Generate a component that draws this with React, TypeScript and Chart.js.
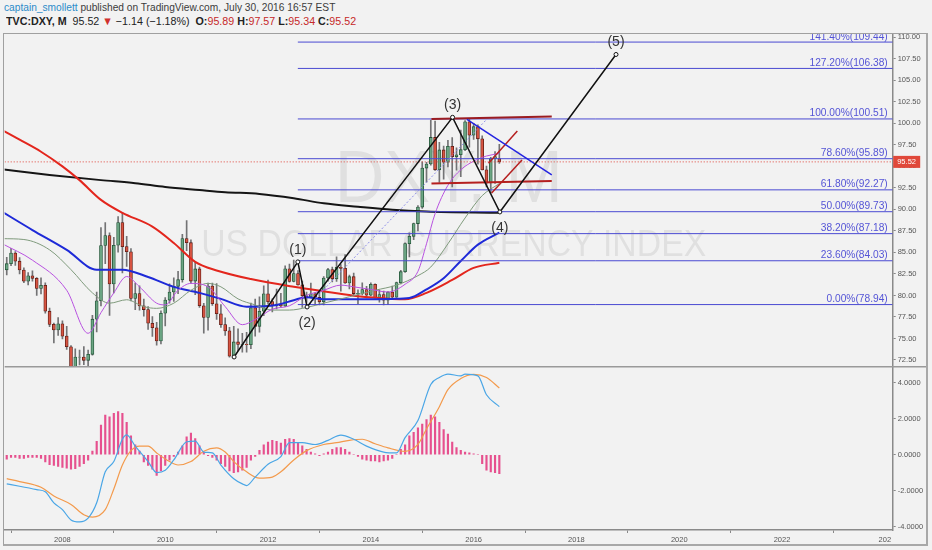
import { useEffect, useRef } from "react";
import Chart from "chart.js/auto";

// Monthly DXY candles, first bar is Dec 2006, last is Jul 2016
const firstCandleMonth = "2006-12";

const opens = [
  82.98,
  83.69, 84.93, 83.98, 82.96, 81.65, 82.29, 81.99, 80.81, 81.17, 78.17, 76.64, 75.99,
  76.7, 75.27, 74.04, 71.71, 72.83, 72.85, 72.46, 73.16, 77.24, 79.38, 85.8, 86.95,
  81.34, 85.83, 88.48, 85.67, 85.08, 79.65, 80.22, 78.79, 78.36, 76.77, 76.25, 74.71,
  77.93, 79.46, 80.4, 81.06, 81.83, 86.6, 86.13, 81.67, 83.08, 78.8, 77.44, 81.1,
  79.03, 77.87, 76.61, 75.88, 72.94, 74.6, 74.31, 74.33, 74.28, 78.56, 76.41, 78.16,
  80.18, 79.28, 78.85, 79.0, 78.77, 83.09, 81.63, 82.55, 81.22, 79.96, 79.82, 80.19,
  79.77, 79.26, 82.03, 83.01, 81.93, 83.28, 83.15, 81.45, 82.18, 80.22, 80.24, 80.68,
  80.04, 81.29, 79.75, 80.1, 79.46, 80.4, 79.8, 81.49, 82.76, 86.02, 86.87, 88.35,
  90.27, 94.8, 95.27, 98.36, 94.6, 96.91, 95.48, 97.34, 96.13, 96.35, 96.94, 100.17,
  98.63, 99.61, 98.2, 94.59, 93.08, 95.89, 95.89,
];
const highs = [
  84.44,
  85.48, 85.1, 84.4, 83.2, 82.65, 82.86, 82.09, 82.05, 81.47, 78.54, 76.8, 77.43,
  77.06, 76.41, 74.18, 73.81, 73.66, 74.06, 73.64, 77.68, 80.38, 87.89, 88.46, 87.27,
  86.75, 89.16, 89.62, 86.86, 85.46, 81.45, 81.11, 79.57, 78.71, 77.54, 76.87, 78.21,
  79.76, 81.34, 82.06, 82.79, 87.1, 88.71, 86.45, 83.92, 83.29, 79.08, 81.44, 81.44,
  81.38, 78.93, 77.39, 76.29, 76.42, 76.12, 75.59, 75.72, 79.12, 79.59, 79.83, 81.12,
  81.78, 79.62, 80.74, 80.24, 83.43, 83.65, 84.1, 82.89, 81.66, 80.39, 81.45, 80.33,
  80.45, 82.19, 83.16, 83.31, 84.48, 83.6, 84.75, 82.37, 82.6, 80.66, 81.48, 81.06,
  81.48, 81.35, 80.61, 80.5, 80.44, 81.08, 81.55, 82.92, 86.11, 87.27, 88.41, 90.44,
  95.53, 95.48, 100.39, 100.27, 97.79, 97.36, 98.03, 98.33, 97.16, 99.22, 100.33, 100.51,
  100.0, 99.83, 98.55, 95.03, 96.06, 96.71, 97.57,
];
const lows = [
  82.38,
  83.46, 83.5, 82.5, 81.49, 81.22, 81.65, 80.01, 80.17, 77.93, 76.38, 74.48, 75.35,
  74.95, 73.72, 70.7, 71.27, 71.92, 71.95, 70.7, 73.06, 75.76, 78.79, 83.7, 77.69,
  80.3, 85.02, 82.63, 83.37, 79.36, 78.34, 78.28, 77.6, 76.06, 75.25, 74.23, 74.38,
  76.47, 79.09, 79.3, 80.2, 81.53, 85.2, 81.4, 80.09, 78.6, 75.63, 75.96, 78.85,
  77.21, 76.29, 75.35, 72.82, 72.7, 73.59, 73.42, 73.42, 73.81, 75.28, 75.74, 77.66,
  78.98, 78.1, 78.43, 78.65, 78.7, 81.55, 81.56, 81.2, 78.6, 79.18, 79.7, 79.01,
  78.91, 78.91, 81.65, 81.58, 81.62, 80.5, 81.4, 80.77, 79.96, 79.05, 80.07, 79.7,
  79.97, 79.72, 79.23, 78.91, 78.93, 79.75, 79.77, 81.34, 82.67, 84.47, 86.48, 87.49,
  90.12, 93.15, 95.13, 94.53, 93.13, 93.51, 94.94, 92.62, 94.57, 93.8, 96.81, 97.22,
  98.14, 95.25, 94.58, 92.62, 91.88, 93.02, 95.34,
];
const closes = [
  83.69,
  84.93, 83.98, 82.96, 81.65, 82.29, 81.99, 80.81, 81.17, 78.17, 76.64, 75.99, 76.7,
  75.27, 74.04, 71.71, 72.83, 72.85, 72.46, 73.16, 77.24, 79.38, 85.8, 86.95, 81.34,
  85.83, 88.48, 85.67, 85.08, 79.65, 80.22, 78.79, 78.36, 76.77, 76.25, 74.71, 77.93,
  79.46, 80.4, 81.06, 81.83, 86.6, 86.13, 81.67, 83.08, 78.8, 77.44, 81.1, 79.03,
  77.87, 76.61, 75.88, 72.94, 74.6, 74.31, 74.33, 74.28, 78.56, 76.41, 78.16, 80.18,
  79.28, 78.85, 79.0, 78.77, 83.09, 81.63, 82.55, 81.22, 79.96, 79.82, 80.19, 79.77,
  79.26, 82.03, 83.01, 81.93, 83.28, 83.15, 81.45, 82.18, 80.22, 80.24, 80.68, 80.04,
  81.29, 79.75, 80.1, 79.46, 80.4, 79.8, 81.49, 82.76, 86.02, 86.87, 88.35, 90.27,
  94.8, 95.27, 98.36, 94.6, 96.91, 95.48, 97.34, 96.13, 96.35, 96.94, 100.17, 98.63,
  99.61, 98.2, 94.59, 93.08, 95.89, 96.14, 95.52,
];

// moving averages (month, value)
const redMa: [string, number][] = [
  ["2006-11", 99.2], ["2007-03", 98.1], ["2007-08", 96.7], ["2008-01", 95.0], ["2008-05", 93.4],
  ["2008-10", 91.1], ["2009-03", 89.6], ["2009-10", 88.0], ["2010-03", 86.1], ["2010-08", 83.9],
  ["2011-01", 82.9], ["2011-09", 81.9], ["2012-07", 81.0], ["2013-03", 80.4], ["2013-10", 79.9],
  ["2014-06", 79.6], ["2014-09", 79.55], ["2015-02", 80.3], ["2015-08", 81.8], ["2016-01", 83.2],
  ["2016-07", 83.8],
];
const blackMa: [string, number][] = [
  ["2006-11", 94.65], ["2007-10", 94.0], ["2008-10", 93.4], ["2009-06", 93.05], ["2010-01", 92.6],
  ["2010-09", 92.25], ["2011-03", 92.0], ["2011-11", 91.8], ["2012-07", 91.3], ["2013-02", 90.7],
  ["2013-10", 90.3], ["2014-06", 89.95], ["2015-02", 89.75], ["2016-07", 89.6],
];
const blueMa: [string, number][] = [
  ["2006-11", 89.7], ["2007-06", 87.6], ["2008-02", 85.3], ["2008-09", 83.0], ["2009-03", 83.0],
  ["2009-09", 82.15], ["2010-03", 81.0], ["2010-09", 80.3], ["2011-02", 79.6], ["2011-08", 78.7],
  ["2012-03", 78.9], ["2012-07", 79.45], ["2012-10", 79.8], ["2013-02", 79.55], ["2013-10", 79.55],
  ["2014-06", 79.6], ["2014-10", 79.7], ["2015-02", 80.7], ["2015-06", 82.0], ["2015-10", 84.0],
  ["2016-02", 85.9], ["2016-07", 87.3],
];
const purpleMa: [string, number][] = [
  ["2006-11", 86.0], ["2007-06", 84.1], ["2008-02", 80.6], ["2008-07", 75.6], ["2008-10", 78.0],
  ["2009-01", 80.3], ["2009-04", 82.2], ["2009-07", 81.0], ["2009-11", 79.1], ["2010-01", 78.9],
  ["2010-04", 80.6], ["2010-07", 81.4], ["2010-11", 81.0], ["2011-03", 78.7], ["2011-07", 76.6],
  ["2011-10", 77.2], ["2012-02", 78.4], ["2012-06", 78.8], ["2012-10", 80.0], ["2013-02", 80.6],
  ["2013-06", 81.2], ["2013-09", 81.0], ["2014-01", 80.7], ["2014-05", 80.4], ["2014-09", 81.3],
  ["2014-12", 82.8], ["2015-02", 86.0], ["2015-04", 89.5], ["2015-07", 92.8], ["2015-10", 94.6],
  ["2016-01", 95.6], ["2016-04", 96.2], ["2016-07", 96.5],
];
const oliveMa: [string, number][] = [
  ["2006-11", 86.6], ["2007-04", 86.5], ["2007-10", 85.3], ["2008-03", 83.0], ["2008-08", 80.3],
  ["2008-12", 79.1], ["2009-04", 79.5], ["2009-08", 78.7], ["2009-11", 78.5], ["2010-03", 79.1],
  ["2010-07", 80.6], ["2010-11", 81.4], ["2011-02", 81.0], ["2011-06", 79.6], ["2011-10", 78.9],
  ["2012-02", 78.3], ["2012-06", 78.3], ["2012-10", 78.6], ["2013-02", 79.1], ["2013-08", 79.85],
  ["2014-02", 80.6], ["2014-07", 81.2], ["2014-12", 82.3], ["2015-03", 83.3], ["2015-07", 86.0],
  ["2015-11", 89.0], ["2016-03", 91.6], ["2016-07", 93.0],
];

// MACD pane
const macdLine: [string, number][] = [
  ["2006-12", -1.62], ["2007-03", -1.75], ["2007-07", -1.94], ["2007-09", -2.06], ["2007-11", -2.67],
  ["2008-01", -3.05], ["2008-03", -3.62], ["2008-05", -3.73], ["2008-07", -3.52], ["2008-09", -2.67],
  ["2008-11", -0.95], ["2009-01", -0.38], ["2009-03", 0.86], ["2009-04", 1.1], ["2009-06", 0.48],
  ["2009-09", -0.38], ["2009-11", -0.99], ["2010-01", -0.86], ["2010-03", -0.29], ["2010-06", 0.72],
  ["2010-08", 0.76], ["2010-10", 0.15], ["2010-12", 0.1], ["2011-02", -0.57], ["2011-05", -1.33],
  ["2011-07", -1.62], ["2011-08", -1.71], ["2011-10", -1.24], ["2012-01", -0.53], ["2012-04", -0.1],
  ["2012-06", 0.67], ["2012-09", 0.67], ["2012-12", 0.57], ["2013-03", 0.8], ["2013-06", 1.09],
  ["2013-09", 0.86], ["2013-12", 0.48], ["2014-04", 0.15], ["2014-07", 0.1], ["2014-09", 0.95],
  ["2014-12", 1.9], ["2015-03", 3.9], ["2015-05", 4.29], ["2015-07", 4.48], ["2015-10", 4.38],
  ["2015-11", 4.48], ["2016-02", 4.38], ["2016-04", 3.33], ["2016-07", 2.67],
];
const signalLine: [string, number][] = [
  ["2006-12", -1.33], ["2007-03", -1.49], ["2007-08", -1.81], ["2007-11", -2.29], ["2008-03", -2.76],
  ["2008-06", -3.33], ["2008-08", -3.47], ["2008-11", -3.05], ["2009-01", -1.9], ["2009-03", -0.57],
  ["2009-05", 0.23], ["2009-07", 0.48], ["2009-09", 0.48], ["2009-11", 0.1], ["2010-02", -0.38],
  ["2010-04", -0.57], ["2010-07", -0.38], ["2010-10", 0.19], ["2011-01", 0.38], ["2011-03", 0.15],
  ["2011-05", -0.38], ["2011-08", -0.95], ["2011-11", -1.3], ["2012-02", -1.24], ["2012-04", -0.95],
  ["2012-07", -0.29], ["2012-10", 0.23], ["2013-02", 0.57], ["2013-05", 0.67], ["2013-08", 0.8],
  ["2013-11", 0.86], ["2014-02", 0.61], ["2014-05", 0.38], ["2014-09", 0.19], ["2014-12", 0.57],
  ["2015-02", 1.43], ["2015-05", 2.67], ["2015-07", 3.62], ["2015-10", 4.23], ["2016-01", 4.46],
  ["2016-04", 4.29], ["2016-07", 3.71],
];
// one histogram bar per candle
const macdHist = [
  -0.25, -0.15, -0.15, -0.2, -0.2, -0.15, -0.15, -0.15, -0.2,
  -0.4, -0.55, -0.6, -0.65, -0.7, -0.75, -0.8, -0.78, -0.65, -0.5, -0.3,
  0.2, 0.75, 1.65, 2.2, 2.1, 2.3, 2.4, 2.3, 1.8, 1.05, 0.55, 0.2,
  -0.4, -0.6, -0.8, -1.15, -0.9, -0.6, -0.3, -0.1,
  0.15, 0.5, 1.0, 1.2, 0.9, 0.5, 0.15,
  -0.05, -0.15, -0.3, -0.5, -0.65, -0.9, -1.0, -0.95, -0.85, -0.7, -0.3, -0.1,
  0.25, 0.55, 0.7, 0.8, 0.75, 0.65, 0.85, 0.9, 0.85, 0.65, 0.5, 0.3, 0.15, 0.05,
  -0.05,
  0.05, 0.15, 0.3, 0.4, 0.4, 0.3, 0.15,
  0,
  -0.1, -0.25, -0.3, -0.35, -0.35, -0.4, -0.35, -0.3, -0.2,
  0,
  0.3, 0.55, 1.05, 1.25, 1.5, 1.7, 1.95, 2.2, 2.1, 1.8, 1.4, 1.15, 0.7, 0.4, 0.25, 0.15, 0.1, 0.05,
  0,
  -0.5, -0.85, -0.95, -1.0, -1.05,
];

// drawings on the chart
const waveX = [2011.34, 2012.58, 2012.76, 2015.59, 2016.51, 2018.77];
const waveY = [72.85, 83.9, 78.66, 100.7, 89.7, 108.0];
const waveLabels = ["", "(1)", "(2)", "(3)", "(4)", "(5)"];

const fibStart = 2012.58;
const fibPercents = [0, 23.6, 38.2, 50, 61.8, 78.6, 100, 127.2, 141.4];
const fibLevels = [78.94, 84.03, 87.18, 89.73, 92.27, 95.89, 100.51, 106.38, 109.44];

const redTop = [[2015.18, 100.5], [2017.52, 100.8]];
const redBottom = [[2015.18, 93.0], [2017.52, 93.3]];
const redChannelA = [[2016.29, 95.35], [2016.85, 99.1]];
const redChannelB = [[2016.35, 91.9], [2016.94, 95.75]];
const blueTrend = [[2015.87, 100.45], [2017.52, 94.0]];
const dottedTrend = [[2012.76, 78.66], [2016.26, 100.5]];

const yearTicks = [2008, 2010, 2012, 2014, 2016, 2018, 2020, 2022, 2024];

const xMin = 2006.877;
const xMax = 2024.153;
const priceMin = 71.72;
const priceMax = 110.38;
const macdMin = -4.18;
const macdMax = 4.89;

const lastClose = closes[closes.length - 1];

const UP = "#6ba583";
const DOWN = "#d75442";
const UP_BORDER = "#225437";
const DOWN_BORDER = "#5b1a13";
const WICK = "#737375";
const FONT = '"Liberation Sans", Arial, sans-serif';

const monthToYear = (m: string) => {
  const [y, mo] = m.split("-").map(Number);
  return y + (mo - 1) / 12;
};

const candleX = closes.map((_, i) => monthToYear(firstCandleMonth) + i / 12);

const toPoints = (pairs: [string, number][]) =>
  pairs.map(([m, v]) => ({ x: monthToYear(m), y: v }));

const maLine = (pairs: [string, number][], color: string, width: number, order: number) => ({
  type: "line",
  yAxisID: "y",
  data: toPoints(pairs),
  borderColor: color,
  borderWidth: width,
  pointRadius: 0,
  cubicInterpolationMode: "monotone",
  order,
});

const segment = (pts: number[][], color: string, width: number, order: number, extra = {}) => ({
  type: "line",
  yAxisID: "y",
  data: pts.map(([x, y]) => ({ x, y })),
  borderColor: color,
  borderWidth: width,
  pointRadius: 0,
  order,
  ...extra,
});

// no automatic label padding: the chart area has to fill the frame exactly
const noPadding = (s: any) => {
  s.paddingLeft = 0;
  s.paddingRight = 0;
  s.paddingTop = 0;
  s.paddingBottom = 0;
};

const overlayPlugin = {
  id: "overlay",
  beforeDatasetsDraw(chart: any) {
    const { ctx, chartArea } = chart;
    const ys = chart.scales.y;
    const cx = (chartArea.left + chartArea.right) / 2;
    const cy = (ys.top + ys.bottom) / 2;
    ctx.save();
    ctx.beginPath();
    ctx.rect(chartArea.left, ys.top, chartArea.right - chartArea.left, ys.bottom - ys.top);
    ctx.clip();
    ctx.fillStyle = "rgba(0,0,0,0.075)";
    ctx.textAlign = "center";
    ctx.textBaseline = "alphabetic";
    const squashed = (text: string, x: number, y: number, size: number, width: number) => {
      ctx.font = `${size}px ${FONT}`;
      const w = ctx.measureText(text).width;
      ctx.save();
      ctx.translate(x, y);
      ctx.scale(width / w, 1);
      ctx.fillText(text, 0, 0);
      ctx.restore();
    };
    squashed("DXY, M", cx, cy + 1.5, 75, 228);
    squashed("US DOLLAR CURRENCY INDEX", cx + 5, cy + 56, 37, 505);
    ctx.restore();
  },
  afterDatasetsDraw(chart: any) {
    const { ctx, chartArea } = chart;
    const xs = chart.scales.x;
    const ys = chart.scales.y;
    ctx.save();
    // fib level captions
    ctx.font = `10.2px ${FONT}`;
    ctx.fillStyle = "#5454d6";
    ctx.textAlign = "right";
    ctx.textBaseline = "alphabetic";
    fibLevels.forEach((v, i) => {
      const yy = ys.getPixelForValue(v);
      ctx.fillText(`${fibPercents[i].toFixed(2)}%(${v.toFixed(2)})`, chartArea.right - 5, yy - 2.5);
    });
    // wave captions
    ctx.font = `14px ${FONT}`;
    ctx.fillStyle = "#333";
    ctx.textAlign = "center";
    waveLabels.forEach((t, i) => {
      if (!t) return;
      const px = xs.getPixelForValue(waveX[i]);
      const py = ys.getPixelForValue(waveY[i]);
      const below = waveY[i] < waveY[i - 1];
      ctx.fillText(t, px, below ? py + 20 : py - 8);
    });
    ctx.restore();
  },
  afterDraw(chart: any) {
    const { ctx, chartArea } = chart;
    const ys = chart.scales.y;
    ctx.save();
    // pane separator
    ctx.strokeStyle = "#9a9a9a";
    ctx.lineWidth = 1.5;
    ctx.beginPath();
    ctx.moveTo(chartArea.left, ys.bottom);
    ctx.lineTo(chart.width, ys.bottom);
    ctx.stroke();
    // last price tag
    const yy = ys.getPixelForValue(lastClose);
    const left = chartArea.right + 0.5;
    ctx.fillStyle = "#e0483a";
    ctx.fillRect(left, yy - 6, 27, 12);
    ctx.fillStyle = "#ffffff";
    ctx.font = `7.5px ${FONT}`;
    ctx.textAlign = "left";
    ctx.textBaseline = "middle";
    ctx.fillText(lastClose.toFixed(2), left + 4, yy + 0.5);
    ctx.restore();
  },
};

const tickFont = { family: FONT, size: 7.5 };

export default function App() {
  const canvasRef = useRef<HTMLCanvasElement | null>(null);

  useEffect(() => {
    document.body.style.margin = "0";
    if (!canvasRef.current) return;

    const datasets: any[] = [
      {
        type: "bar",
        yAxisID: "y2",
        data: candleX.map((x, i) => ({ x, y: macdHist[i] })),
        backgroundColor: "#e6508e",
        barThickness: 1.5,
        grouped: false,
        order: 30,
      },
      {
        type: "line",
        yAxisID: "y2",
        data: toPoints(signalLine),
        borderColor: "#f39a4c",
        borderWidth: 1.2,
        pointRadius: 0,
        cubicInterpolationMode: "monotone",
        order: 29,
      },
      {
        type: "line",
        yAxisID: "y2",
        data: toPoints(macdLine),
        borderColor: "#4aa6e6",
        borderWidth: 1.2,
        pointRadius: 0,
        cubicInterpolationMode: "monotone",
        order: 28,
      },
      {
        type: "bar",
        yAxisID: "y",
        data: candleX.map((x, i) => ({ x, y: [lows[i], highs[i]] })),
        backgroundColor: WICK,
        barThickness: 1,
        grouped: false,
        order: 27,
      },
      {
        type: "bar",
        yAxisID: "y",
        data: candleX.map((x, i) => ({ x, y: [opens[i], closes[i]] })),
        backgroundColor: closes.map((c, i) => (c >= opens[i] ? UP : DOWN)),
        borderColor: closes.map((c, i) => (c >= opens[i] ? UP_BORDER : DOWN_BORDER)),
        borderWidth: 0.8,
        borderSkipped: false,
        barThickness: 3,
        grouped: false,
        order: 26,
      },
      maLine(blackMa, "#151515", 2, 20),
      maLine(redMa, "#e3261d", 2, 19),
      maLine(blueMa, "#1e2ad8", 2, 18),
      maLine(oliveMa, "#7f9a7c", 1, 17),
      maLine(purpleMa, "#b852e0", 1, 16),
      ...fibLevels.map((v) => segment([[fibStart, v], [xMax, v]], "#4a4ad2", 1, 12)),
      segment([[xMin, lastClose], [xMax, lastClose]], "#e0443a", 1, 11, { borderDash: [1, 2] }),
      segment(dottedTrend, "#8c8ce8", 1, 10, { borderDash: [2, 2] }),
      segment(redTop, "#9b1c22", 2, 8),
      segment(redBottom, "#b51f1f", 2, 8),
      segment(redChannelA, "#b51f1f", 1.5, 8),
      segment(redChannelB, "#b51f1f", 1.5, 8),
      segment(blueTrend, "#2424e0", 1.5, 7),
      {
        type: "line",
        yAxisID: "y",
        data: waveX.map((x, i) => ({ x, y: waveY[i] })),
        borderColor: "#111",
        borderWidth: 1.5,
        pointRadius: 2,
        pointBackgroundColor: "#fff",
        pointBorderColor: "#111",
        pointBorderWidth: 1,
        order: 1,
      },
    ];

    const chart = new Chart(canvasRef.current, {
      type: "line",
      data: { datasets },
      options: {
        animation: false,
        responsive: true,
        maintainAspectRatio: false,
        events: [],
        layout: { autoPadding: false, padding: { left: 0.7, top: 0, right: 0, bottom: 0 } },
        plugins: { legend: { display: false }, tooltip: { enabled: false } },
        scales: {
          x: {
            type: "linear",
            min: xMin,
            max: xMax,
            offset: false,
            afterBuildTicks: (s: any) => {
              s.ticks = yearTicks.map((v) => ({ value: v }));
            },
            ticks: {
              font: tickFont,
              color: "#555",
              padding: 2,
              maxRotation: 0,
              autoSkip: false,
              callback: (v: any) => (v === 2024 ? "202" : String(v)),
            },
            grid: { drawOnChartArea: false, drawTicks: true, tickLength: 3, color: "#888" },
            border: { display: true, color: "#8a8a8a", width: 1.5 },
            afterFit: (s: any) => {
              s.height = 14;
              noPadding(s);
            },
          },
          y: {
            type: "linear",
            position: "right",
            stack: "panes",
            stackWeight: 332.7,
            min: priceMin,
            max: priceMax,
            ticks: {
              stepSize: 2.5,
              maxTicksLimit: 30,
              includeBounds: false,
              autoSkip: false,
              font: tickFont,
              color: "#555",
              padding: 2,
              callback: (v: any) => Number(v).toFixed(2),
            },
            grid: { drawOnChartArea: false, drawTicks: true, tickLength: 3, color: "#888" },
            border: { display: true, color: "#8a8a8a", width: 1.5 },
            afterFit: (s: any) => {
              s.width = 33.3;
              noPadding(s);
            },
          },
          y2: {
            type: "linear",
            position: "right",
            stack: "panes",
            stackWeight: 163.3,
            min: macdMin,
            max: macdMax,
            ticks: {
              stepSize: 2,
              includeBounds: false,
              autoSkip: false,
              font: tickFont,
              color: "#555",
              padding: 2,
              callback: (v: any) => Number(v).toFixed(4),
            },
            grid: { drawOnChartArea: false, drawTicks: true, tickLength: 3, color: "#888" },
            border: { display: true, color: "#8a8a8a", width: 1.5 },
            afterFit: (s: any) => {
              s.width = 33.3;
              noPadding(s);
            },
          },
        },
      },
      plugins: [overlayPlugin],
    } as any);

    return () => chart.destroy();
  }, []);

  return (
    <div
      style={{
        position: "relative",
        width: 932,
        height: 550,
        background: "#f2f2f2",
        overflow: "hidden",
        fontFamily: FONT,
      }}
    >
      <div
        style={{
          position: "absolute",
          left: 4,
          top: 1,
          fontSize: 11.5,
          lineHeight: "13px",
          color: "#3c3c3c",
          whiteSpace: "nowrap",
          transform: "scaleX(0.885)",
          transformOrigin: "0 0",
        }}
      >
        <span style={{ color: "#2b8bc9" }}>captain_smollett</span> published on TradingView.com, July 30, 2016 16:57 EST
      </div>
      <div
        style={{
          position: "absolute",
          left: 6,
          top: 15,
          fontSize: 11.5,
          lineHeight: "13px",
          color: "#222",
          whiteSpace: "nowrap",
          transform: "scaleX(0.93)",
          transformOrigin: "0 0",
        }}
      >
        <b>TVC:DXY, M</b>&nbsp; 95.52 <span style={{ color: "#d0312d" }}>▼</span> −1.14 (−1.18%)&nbsp;{" "}
        <b>O:</b><span style={{ color: "#c62828" }}>95.89</span> <b>H:</b>
        <span style={{ color: "#c62828" }}>97.57</span> <b>L:</b>
        <span style={{ color: "#c62828" }}>95.34</span> <b>C:</b>
        <span style={{ color: "#c62828" }}>95.52</span>
      </div>
      <div
        style={{
          position: "absolute",
          left: 3,
          top: 33,
          width: 925,
          height: 513,
          boxSizing: "border-box",
          borderTop: "1px solid #a0a0a0",
          borderLeft: "1px solid #a0a0a0",
          borderRight: "2px solid #a8a8a8",
          borderBottom: "2px solid #a8a8a8",
        }}
      />
      <div style={{ position: "absolute", left: 4, top: 34, width: 922, height: 510 }}>
        <canvas ref={canvasRef} />
      </div>
    </div>
  );
}
